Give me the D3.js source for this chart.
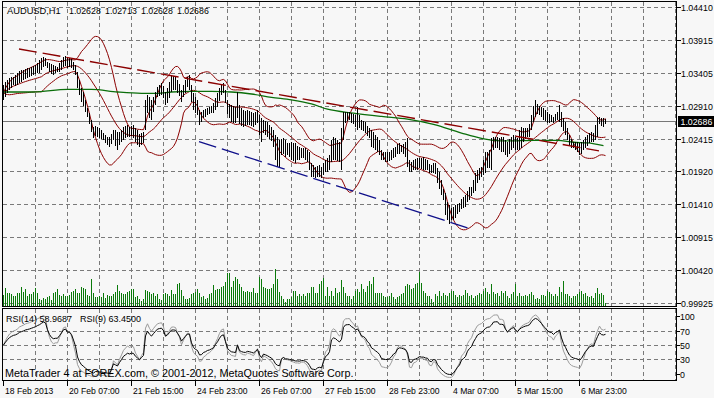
<!DOCTYPE html>
<html><head><meta charset="utf-8">
<script src="https://cdn.jsdelivr.net/npm/d3@7"></script>
<style>
html,body{margin:0;padding:0;background:#f7f7f7;}
svg{display:block;}
text{font-family:"Liberation Sans",Arial,sans-serif;fill:#000;}
</style></head><body>
<svg id="c" width="714" height="398"></svg>
<script>
// ---- DATA (AUDUSD H1, bar 0 = 18 Feb 2013 23:00) ----
const highs = [
1.0322,1.0327,1.0330,1.0333,1.0335,1.0335,1.0338,1.0341,1.0344,1.0345,
1.0345,1.0347,1.0348,1.0348,1.0350,1.0351,1.0353,1.0356,1.0360,1.0363,
1.0365,1.0363,1.0357,1.0356,1.0354,1.0353,1.0351,1.0350,1.0356,1.0360,
1.0365,1.0366,1.0365,1.0363,1.0362,1.0357,1.0353,1.0342,1.0330,1.0318,
1.0312,1.0300,1.0288,1.0280,1.0269,1.0259,1.0260,1.0259,1.0257,1.0254,
1.0250,1.0247,1.0244,1.0244,1.0248,1.0254,1.0254,1.0251,1.0251,1.0254,
1.0259,1.0260,1.0262,1.0259,1.0260,1.0262,1.0257,1.0254,1.0248,1.0250,
1.0251,1.0300,1.0307,1.0304,1.0300,1.0304,1.0312,1.0319,1.0322,1.0325,
1.0321,1.0312,1.0318,1.0327,1.0338,1.0336,1.0335,1.0330,1.0324,1.0315,
1.0322,1.0330,1.0335,1.0338,1.0322,1.0310,1.0304,1.0300,1.0285,1.0282,
1.0285,1.0286,1.0288,1.0289,1.0291,1.0295,1.0303,1.0310,1.0318,1.0324,
1.0325,1.0315,1.0300,1.0294,1.0292,1.0291,1.0289,1.0312,1.0292,1.0288,
1.0285,1.0283,1.0285,1.0283,1.0282,1.0280,1.0282,1.0285,1.0277,1.0272,
1.0269,1.0268,1.0266,1.0262,1.0259,1.0254,1.0247,1.0244,1.0239,1.0241,
1.0242,1.0239,1.0235,1.0235,1.0236,1.0235,1.0235,1.0230,1.0229,1.0227,
1.0227,1.0227,1.0224,1.0221,1.0204,1.0201,1.0198,1.0200,1.0201,1.0198,
1.0204,1.0209,1.0212,1.0216,1.0239,1.0244,1.0242,1.0239,1.0236,1.0257,
1.0282,1.0282,1.0282,1.0282,1.0280,1.0279,1.0277,1.0289,1.0277,1.0269,
1.0268,1.0266,1.0260,1.0257,1.0254,1.0251,1.0247,1.0244,1.0239,1.0224,
1.0221,1.0221,1.0221,1.0222,1.0224,1.0227,1.0229,1.0233,1.0235,1.0232,
1.0233,1.0236,1.0242,1.0209,1.0206,1.0209,1.0210,1.0212,1.0212,1.0212,
1.0213,1.0210,1.0209,1.0203,1.0201,1.0204,1.0204,1.0197,1.0191,1.0179,
1.0166,1.0159,1.0145,1.0141,1.0136,1.0138,1.0141,1.0142,1.0144,1.0150,
1.0153,1.0156,1.0163,1.0168,1.0168,1.0179,1.0189,1.0194,1.0197,1.0198,
1.0209,1.0221,1.0221,1.0224,1.0242,1.0244,1.0244,1.0244,1.0242,1.0244,
1.0244,1.0239,1.0236,1.0241,1.0244,1.0247,1.0244,1.0242,1.0254,1.0259,
1.0257,1.0257,1.0257,1.0263,1.0277,1.0291,1.0300,1.0294,1.0291,1.0289,
1.0288,1.0285,1.0282,1.0279,1.0277,1.0274,1.0279,1.0282,1.0292,1.0282,
1.0272,1.0266,1.0257,1.0247,1.0241,1.0236,1.0236,1.0236,1.0235,1.0236,
1.0239,1.0244,1.0247,1.0250,1.0251,1.0250,1.0262,1.0274,1.0274,1.0272,
1.0272,1.0271];
const lows = [
1.0300,1.0304,1.0310,1.0315,1.0318,1.0322,1.0321,1.0322,1.0325,1.0327,
1.0330,1.0332,1.0333,1.0335,1.0336,1.0338,1.0339,1.0341,1.0341,1.0345,
1.0350,1.0351,1.0348,1.0342,1.0339,1.0338,1.0341,1.0342,1.0342,1.0345,
1.0350,1.0351,1.0348,1.0350,1.0348,1.0345,1.0338,1.0318,1.0307,1.0297,
1.0291,1.0282,1.0274,1.0263,1.0251,1.0242,1.0245,1.0244,1.0242,1.0241,
1.0239,1.0235,1.0232,1.0229,1.0233,1.0239,1.0230,1.0224,1.0232,1.0236,
1.0239,1.0242,1.0244,1.0244,1.0245,1.0242,1.0236,1.0232,1.0229,1.0232,
1.0235,1.0254,1.0280,1.0272,1.0269,1.0282,1.0292,1.0304,1.0306,1.0307,
1.0303,1.0292,1.0295,1.0303,1.0312,1.0315,1.0315,1.0310,1.0306,1.0297,
1.0304,1.0310,1.0319,1.0315,1.0297,1.0285,1.0280,1.0277,1.0262,1.0266,
1.0272,1.0274,1.0277,1.0278,1.0280,1.0280,1.0285,1.0289,1.0298,1.0307,
1.0310,1.0295,1.0279,1.0272,1.0266,1.0265,1.0265,1.0272,1.0263,1.0260,
1.0259,1.0260,1.0262,1.0262,1.0260,1.0259,1.0262,1.0265,1.0247,1.0236,
1.0250,1.0247,1.0244,1.0241,1.0238,1.0229,1.0209,1.0198,1.0198,1.0216,
1.0219,1.0213,1.0216,1.0213,1.0209,1.0207,1.0204,1.0209,1.0209,1.0212,
1.0212,1.0209,1.0206,1.0194,1.0183,1.0183,1.0182,1.0183,1.0183,1.0182,
1.0186,1.0191,1.0191,1.0194,1.0206,1.0209,1.0209,1.0207,1.0206,1.0194,
1.0239,1.0265,1.0268,1.0269,1.0265,1.0263,1.0259,1.0254,1.0257,1.0254,
1.0253,1.0250,1.0245,1.0242,1.0229,1.0227,1.0224,1.0221,1.0216,1.0209,
1.0209,1.0206,1.0206,1.0207,1.0209,1.0212,1.0213,1.0218,1.0219,1.0221,
1.0218,1.0213,1.0198,1.0191,1.0191,1.0194,1.0194,1.0194,1.0197,1.0195,
1.0194,1.0194,1.0194,1.0189,1.0189,1.0189,1.0188,1.0175,1.0166,1.0156,
1.0148,1.0126,1.0118,1.0113,1.0118,1.0119,1.0122,1.0127,1.0130,1.0135,
1.0136,1.0138,1.0145,1.0148,1.0154,1.0159,1.0163,1.0175,1.0179,1.0183,
1.0186,1.0189,1.0197,1.0197,1.0194,1.0224,1.0227,1.0228,1.0224,1.0222,
1.0221,1.0216,1.0213,1.0218,1.0224,1.0228,1.0225,1.0224,1.0224,1.0228,
1.0236,1.0241,1.0244,1.0244,1.0254,1.0266,1.0274,1.0278,1.0277,1.0274,
1.0269,1.0268,1.0265,1.0265,1.0266,1.0265,1.0268,1.0269,1.0266,1.0259,
1.0253,1.0247,1.0239,1.0232,1.0228,1.0227,1.0224,1.0221,1.0216,1.0219,
1.0224,1.0228,1.0231,1.0235,1.0236,1.0236,1.0239,1.0244,1.0263,1.0260,
1.0259,1.0263];
// tick volume, hundreds of ticks
const volumes = [
11,18,13,13,12,10,10,13,13,19, 14,17,10,12,12,14,18,13,7,6,
8,7,9,10,6,13,14,17,11,10, 12,10,10,11,14,15,17,13,13,19,
18,17,11,10,27,13,9,9,10,9, 13,8,11,10,10,12,14,21,15,13,
12,12,14,15,17,17,9,10,7,5, 7,16,15,14,12,13,10,12,7,6,
12,13,12,10,16,12,12,22,23,16, 10,7,7,8,12,13,14,17,13,9,
10,7,8,12,13,21,16,17,17,19, 20,24,33,33,19,25,29,27,22,19,
15,14,15,14,14,18,13,13,29,27, 19,18,17,17,18,22,37,27,14,10,
7,4,7,7,9,15,15,10,12,10, 12,10,13,13,
19,19,13,13,22,25,28,10,19,10, 15,10,18,13,14,26,19,13,10,10,
7,10,15,17,14,22,17,14,20,25, 22,29,13,13,13,13,10,9,9,10,
13,9,7,9,10,12,13,20,22,21, 17,18,22,23,34,23,15,13,10,10,
7,4,12,10,15,10,13,11,10,13, 15,15,11,9,11,10,11,16,13,10,
11,8,10,11,13,12,15,18,14,12, 22,14,12,13,10,15,13,15,10,8,
12,14,22,10,13,10,10,11,10,12, 14,11,7,8,7,11,11,10,15,14,
12,10,12,10,19,14,25,12,12,10, 8,10,10,12,14,15,12,13,10,9,
10,8,13,18,12,13,11,3];
// long moving average (green), read at sample bars
const maBars   = [0,15,32,44,57,69,77,84,94,104,114,124,134,144,154,162,175,189,202,215,229,239,245,252,265,277,285,292,300];
const maValues = [1.0312,1.0312,1.0316,1.0316,1.0312,1.0310,1.0310,1.0312,1.0313,1.0313,1.0312,1.0309,1.0304,1.0300,1.0294,1.0286,1.0280,1.0275,1.0271,1.0263,1.0250,1.0242,1.0239,1.0238,1.0239,1.0239,1.0236,1.0235,1.0231];
// drawn trend lines
const trendRedBars = [8, 298],  trendRedPrices = [1.0377, 1.0223];
const trendBlueBars = [98, 234], trendBluePrices = [1.0237, 1.0105];
// labels
const symbolLabel = "AUDUSD,H1";
const headerQuote = ["1.02628","1.02713","1.02628","1.02686"];
const currentPrice = 1.02686;
const priceTickLabels = ["1.04410","1.03915","1.03405","1.02910","1.02415","1.01920","1.01410","1.00915","1.00420","0.99925"];
const rsiTickValues = [100,70,50,30,0];
const rsiGridValues = [70,50,30];
const rsiLabels = ["RSI(14) 58.9687","RSI(9) 63.4500"];
const dateBars = [0,32,64,96,128,160,192,224,256,288];
const dateLabels = ["18 Feb 2013","20 Feb 07:00","21 Feb 15:00","24 Feb 23:00","26 Feb 07:00","27 Feb 15:00","28 Feb 23:00","4 Mar 07:00","5 Mar 15:00","6 Mar 23:00"];
const copyright = "MetaTrader 4 at FOREX.com, \u00A9 2001-2012, MetaQuotes Software Corp.";

// ---- LAYOUT ----
const L = 2.5, R = 676.5, mainTop = 1.5, mainBot = 306.5, rsiTop = 308.5, rsiBot = 380.5;
const svg = d3.select("#c");
const x = d3.scaleLinear().domain([0, 337]).range([3, 677]);
const y = d3.scaleLinear().domain([0.99925, 1.04410]).range([303.3, 6.7]);
const yVol = d3.scaleLinear().domain([0, 40]).range([306, 266]);
const yRsi = d3.scaleLinear().domain([0, 100]).range([380, 310]);
const px = v => Math.round(v) + 0.5;

const defs = svg.append("defs");
defs.append("clipPath").attr("id","cm").append("rect").attr("x",L).attr("y",mainTop).attr("width",R-L).attr("height",mainBot-mainTop);
defs.append("clipPath").attr("id","cr").append("rect").attr("x",L).attr("y",rsiTop).attr("width",R-L).attr("height",rsiBot-rsiTop);

const grid = svg.append("g").attr("stroke","#7a7a7a").attr("stroke-dasharray","4,3").attr("shape-rendering","crispEdges");
const [d0, d1] = y.domain();
const gridPrices = priceTickLabels.map((_, k) => d1 - k * (d1 - d0) / (priceTickLabels.length - 1));
grid.selectAll(".hp").data(gridPrices).join("line")
  .attr("x1", L).attr("x2", R).attr("y1", d => px(y(d))).attr("y2", d => px(y(d)));
grid.selectAll(".hr").data(rsiGridValues).join("line")
  .attr("x1", L).attr("x2", R).attr("y1", d => px(yRsi(d))).attr("y2", d => px(yRsi(d)));
const vBars = d3.range(16, 337, 16);
grid.selectAll(".vm").data(vBars).join("line")
  .attr("x1", d => px(x(d))).attr("x2", d => px(x(d))).attr("y1", mainTop).attr("y2", mainBot);
grid.append("g").selectAll("line").data(vBars).join("line")
  .attr("x1", d => px(x(d))).attr("x2", d => px(x(d))).attr("y1", rsiTop).attr("y2", rsiBot);

// main panel content
const gm = svg.append("g").attr("clip-path","url(#cm)");
gm.append("g").attr("stroke","#0b7a0b").attr("shape-rendering","crispEdges")
  .selectAll("line").data(volumes).join("line")
  .attr("x1", (d,i) => px(x(i))).attr("x2", (d,i) => px(x(i)))
  .attr("y1", 306).attr("y2", d => yVol(d));
gm.append("line").attr("x1",L).attr("x2",R).attr("y1",px(y(currentPrice))).attr("y2",px(y(currentPrice)))
  .attr("stroke","#777").attr("shape-rendering","crispEdges");

// Bollinger bands (20, 2) on median price
const med = highs.map((h, i) => (h + lows[i]) / 2);
const bb = med.map((_, i) => {
  const w = med.slice(Math.max(0, i - 19), i + 1);
  const m = d3.mean(w), s = Math.sqrt(d3.mean(w, v => (v - m) ** 2));
  return {i, mid: m, up: m + 2 * s, lo: m - 2 * s};
});
["up","mid","lo"].forEach(k => {
  gm.append("path").datum(bb).attr("fill","none").attr("stroke","#8b0000").attr("stroke-width",1)
    .attr("d", d3.line().x(d => x(d.i) + 0.5).y(d => y(d[k])));
});
gm.append("path").datum(maBars.map((b, k) => ({b, v: maValues[k]})))
  .attr("fill","none").attr("stroke","#0a6e0a").attr("stroke-width",1.3)
  .attr("d", d3.line().curve(d3.curveMonotoneX).x(d => x(d.b) + 0.5).y(d => y(d.v)));

// price bars (high-low)
gm.append("g").attr("stroke","#000").attr("shape-rendering","crispEdges")
  .selectAll("line").data(highs).join("line")
  .attr("x1", (d,i) => px(x(i))).attr("x2", (d,i) => px(x(i)))
  .attr("y1", d => Math.round(y(d))).attr("y2", (d,i) => Math.max(Math.round(y(lows[i])), Math.round(y(d)) + 1));

// trend lines
const tl = (bars, prices, col, w) => gm.append("path")
  .datum(bars.map((b, k) => ({b, p: prices[k]})))
  .attr("fill","none").attr("stroke",col).attr("stroke-width",w).attr("stroke-dasharray","18,6")
  .attr("d", d3.line().x(d => x(d.b)).y(d => y(d.p)));
tl(trendRedBars, trendRedPrices, "#8b0000", 1.4);
tl(trendBlueBars, trendBluePrices, "#10108a", 1.3);

// RSI
function rsi(n) {
  let g = 0.0002, l = 0.0002; const out = [{i: 0, v: 50}];
  for (let i = 1; i < med.length; i++) {
    const d = med[i] - med[i - 1];
    g = (g * (n - 1) + Math.max(d, 0)) / n;
    l = (l * (n - 1) + Math.max(-d, 0)) / n;
    out.push({i, v: 100 - 100 / (1 + g / l)});
  }
  return out;
}
const gr = svg.append("g").attr("clip-path","url(#cr)");
const rl = d3.line().x(d => x(d.i) + 0.5).y(d => yRsi(d.v));
gr.append("path").datum(rsi(9)).attr("fill","none").attr("stroke","#9a9a9a").attr("d", rl);
gr.append("path").datum(rsi(14)).attr("fill","none").attr("stroke","#000").attr("d", rl);

// frames
const fr = svg.append("g").attr("fill","none").attr("stroke","#000").attr("shape-rendering","crispEdges");
fr.append("rect").attr("x",L).attr("y",mainTop).attr("width",R-L).attr("height",mainBot-mainTop);
fr.append("rect").attr("x",L).attr("y",rsiTop).attr("width",R-L).attr("height",rsiBot-rsiTop);

// price axis labels
const ax = svg.append("g");
gridPrices.forEach((p, k) => {
  const yy = px(y(p));
  ax.append("line").attr("x1",R).attr("x2",R+4).attr("y1",yy).attr("y2",yy).attr("stroke","#000").attr("shape-rendering","crispEdges");
  ax.append("text").attr("x",681).attr("y",yy+3.5).attr("font-size","8.8px").text(priceTickLabels[k]);
});
const cy = px(y(currentPrice));
ax.append("rect").attr("x",678).attr("y",cy-5.5).attr("width",36).attr("height",11).attr("fill","#000");
ax.append("text").attr("x",680.5).attr("y",cy+3.5).attr("font-size","8.8px").style("fill","#fff").text(currentPrice.toFixed(5));
rsiTickValues.forEach(v => {
  const yy = Math.min(Math.max(yRsi(v), 316), 374);
  ax.append("line").attr("x1",R).attr("x2",R+3).attr("y1",px(yy)).attr("y2",px(yy)).attr("stroke","#000").attr("shape-rendering","crispEdges");
  ax.append("text").attr("x",680).attr("y",yy+3.5).attr("font-size","8.8px").text(v);
});
dateBars.forEach((b, k) => {
  const xx = px(x(b));
  ax.append("line").attr("x1",xx).attr("x2",xx).attr("y1",rsiBot).attr("y2",rsiBot+5).attr("stroke","#000").attr("shape-rendering","crispEdges");
  ax.append("text").attr("x",xx+1.5).attr("y",394).attr("font-size","8.6px").text(dateLabels[k]);
});
ax.append("text").attr("x",7).attr("y",14).attr("font-size","9.3px").text(symbolLabel);
headerQuote.forEach((q, k) => ax.append("text").attr("x",69 + 36 * k).attr("y",14).attr("font-size","8.8px").text(q));
ax.append("text").attr("x",6).attr("y",322).attr("font-size","9px").text(rsiLabels[0]);
ax.append("text").attr("x",80).attr("y",322).attr("font-size","9px").text(rsiLabels[1]);
ax.append("text").attr("x",5).attr("y",377).attr("font-size","10.8px").text(copyright);
</script>
</body></html>
